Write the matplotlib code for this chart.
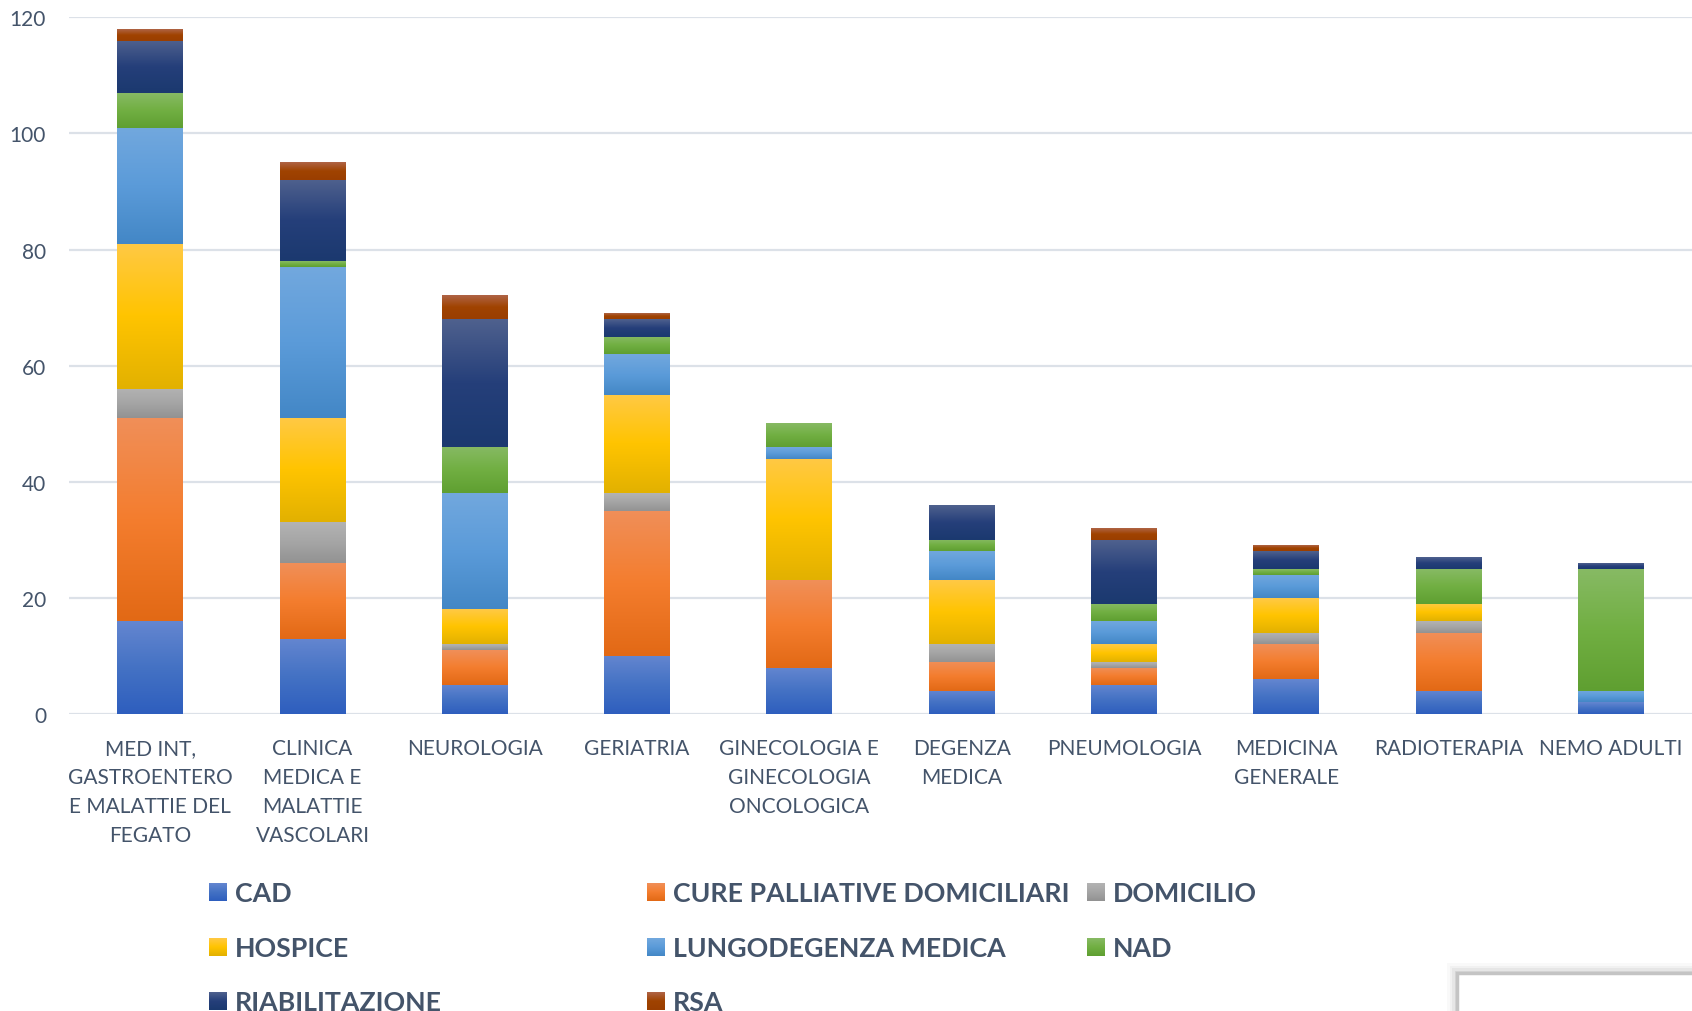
import numpy as np
import matplotlib
matplotlib.use("Agg")
import matplotlib.pyplot as plt
from matplotlib.colors import LinearSegmentedColormap
from matplotlib.patches import Rectangle

# ---- data -------------------------------------------------------------
categories = [
    "MED INT,\nGASTROENTERO\nE MALATTIE DEL\nFEGATO",
    "CLINICA\nMEDICA E\nMALATTIE\nVASCOLARI",
    "NEUROLOGIA",
    "GERIATRIA",
    "GINECOLOGIA E\nGINECOLOGIA\nONCOLOGICA",
    "DEGENZA\nMEDICA",
    "PNEUMOLOGIA",
    "MEDICINA\nGENERALE",
    "RADIOTERAPIA",
    "NEMO ADULTI",
]

series_names = ["CAD", "CURE PALLIATIVE DOMICILIARI", "DOMICILIO", "HOSPICE",
                "LUNGODEGENZA MEDICA", "NAD", "RIABILITAZIONE", "RSA"]

cad = [16, 13, 5, 10, 8, 4, 5, 6, 4, 2]
cure_palliative = [35, 13, 6, 25, 15, 5, 3, 6, 10, 0]
domicilio = [5, 7, 1, 3, 0, 3, 1, 2, 2, 0]
hospice = [25, 18, 6, 17, 21, 11, 3, 6, 3, 0]
lungodegenza = [20, 26, 20, 7, 2, 5, 4, 4, 0, 2]
nad = [6, 1, 8, 3, 4, 2, 3, 1, 6, 21]
riabilitazione = [9, 14, 22, 3, 0, 6, 11, 3, 2, 1]
rsa = [2, 3, 4, 1, 0, 0, 2, 1, 0, 0]

y_ticks = [0, 20, 40, 60, 80, 100, 120]

# gradient stops (top, middle, bottom) for each series
gradients = [
    ["#6486D0", "#4472C4", "#2E5EBE"],
    ["#F08F59", "#F47D2E", "#E26915"],
    ["#B3B3B3", "#A5A5A5", "#929292"],
    ["#FFC945", "#FFC400", "#E2B100"],
    ["#72A8DE", "#5B9BD9", "#4387C6"],
    ["#87BA64", "#71AF42", "#5F9F31"],
    ["#4F618E", "#253F7A", "#1B396F"],
    ["#AF6446", "#A04300", "#9A3E00"],
]

values = [cad, cure_palliative, domicilio, hospice, lungodegenza, nad,
          riabilitazione, rsa]

TEXT = "#44546A"
GRID = "#DCE1E8"

W, H = 1692, 1012
fig = plt.figure(figsize=(W / 100, H / 100), dpi=100)
fig.patch.set_facecolor("white")

left_px, right_px, top_px, bottom_px = 69, 1692, 18.3, 715
ax = fig.add_axes([left_px / W, 1 - bottom_px / H,
                   (right_px - left_px) / W, (bottom_px - top_px) / H])


def gradient_rect(axis, x0, x1, y0, y1, stops, z):
    cmap = LinearSegmentedColormap.from_list("grad", stops)
    grad = np.linspace(0, 1, 256).reshape(-1, 1)
    axis.imshow(grad, cmap=cmap, extent=[x0, x1, y0, y1], origin="upper",
                aspect="auto", interpolation="bilinear", zorder=z)


x = np.arange(len(categories))
bar_w = 0.405
bottom = np.zeros(len(categories))
for vals, stops, name in zip(values, gradients, series_names):
    vals = np.asarray(vals, dtype=float)
    bars = ax.bar(x, vals, bar_w, bottom=bottom, color=stops[1],
                  label=name, zorder=2, linewidth=0)
    for rect, v in zip(bars, vals):
        rect.set_visible(False)
        if v <= 0:
            continue
        rx, ry = rect.get_x(), rect.get_y()
        gradient_rect(ax, rx, rx + rect.get_width(), ry, ry + rect.get_height(),
                      stops, 3)
    bottom += vals

ax.set_xlim(-0.5, len(categories) - 0.5)
ax.set_ylim(0, 120)
ax.set_yticks(y_ticks)
ax.set_yticklabels([str(t) for t in y_ticks])
ax.set_xticks(x)
ax.set_xticklabels(categories, linespacing=1.57)
ax.yaxis.grid(True, color=GRID, linewidth=1.6, zorder=0)
ax.set_axisbelow(True)
for s in ax.spines.values():
    s.set_visible(False)
ax.tick_params(axis="both", length=0, labelcolor=TEXT, labelsize=15)
ax.tick_params(axis="y", pad=16.5)
ax.tick_params(axis="x", pad=17)
for lab in ax.get_xticklabels() + ax.get_yticklabels():
    lab.set_fontfamily("Lato")

# ---- legend, laid out in pixel coordinates -----------------------------
lax = fig.add_axes([0, 0, 1, 1], facecolor="none")
lax.set_xlim(0, W)
lax.set_ylim(H, 0)
lax.axis("off")

col_x = [209, 647, 1087]
row_base = [902, 957, 1011]
for i, (name, stops) in enumerate(zip(series_names, gradients)):
    r, c = divmod(i, 3)
    mx, by = col_x[c], row_base[r]
    cmap = LinearSegmentedColormap.from_list("lg", stops)
    lax.imshow(np.linspace(0, 1, 64).reshape(-1, 1), cmap=cmap,
               extent=[mx, mx + 18, by, by - 18], origin="upper",
               aspect="auto", interpolation="bilinear", zorder=3)
    lax.text(mx + 26, by, name, fontsize=19.3, fontweight="bold",
             family="Lato", color=TEXT, va="baseline", ha="left")

# framed panel peeking in at the lower right corner
for k, a in enumerate([0.05, 0.08, 0.12, 0.18]):
    off = 10 - 2.5 * k
    lax.add_patch(Rectangle((1457 - off, 974 - off), 400, 200,
                            facecolor="#9A9A9A", edgecolor="none",
                            alpha=a, zorder=4))
lax.add_patch(Rectangle((1457, 974), 400, 200, facecolor="white",
                        edgecolor="#C4C4C4", linewidth=2.5, zorder=5))

lax.set_xlim(0, W)
lax.set_ylim(H, 0)

fig.savefig("out.png", dpi=100, facecolor="white")
